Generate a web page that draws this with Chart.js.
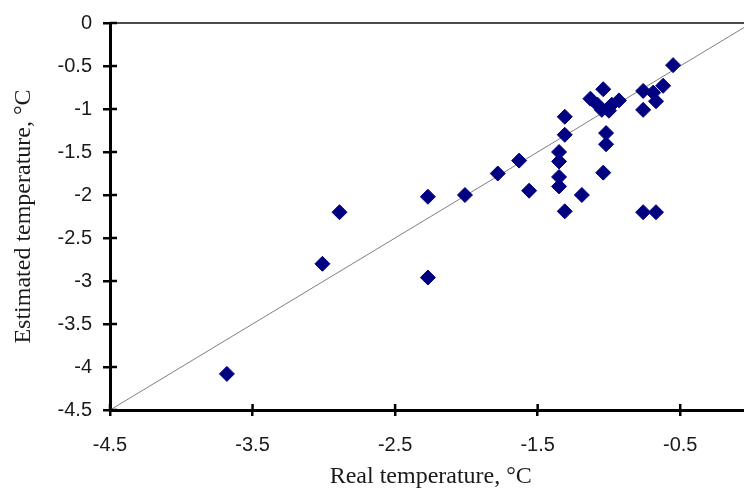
<!DOCTYPE html>
<html>
<head>
<meta charset="utf-8">
<script src="https://cdn.jsdelivr.net/npm/chart.js@4"></script>
<style>
  html, body { margin: 0; padding: 0; background: #fff; overflow: hidden; }
  #wrap { width: 744px; height: 491px; overflow: hidden; }
</style>
</head>
<body>
<div id="wrap"><canvas id="chart" width="760" height="491"></canvas></div>
<script>
// measured points: real vs estimated temperature
const realTemp = [-3.68, -3.01, -2.89, -2.27, -2.27, -2.01, -1.78, -1.63, -1.56,
                  -1.35, -1.35, -1.35, -1.35, -1.31, -1.31, -1.31, -1.19,
                  -1.13, -1.08, -1.05, -1.00, -1.04, -0.98, -0.93,
                  -1.02, -1.02, -1.04, -0.76, -0.76, -0.67, -0.69, -0.62, -0.55,
                  -0.76, -0.67];
const estTemp  = [-4.08, -2.80, -2.20, -2.96, -2.02, -2.00, -1.75, -1.60, -1.95,
                  -1.50, -1.61, -1.79, -1.90, -1.09, -1.30, -2.19, -2.00,
                  -0.88, -0.95, -1.01, -1.02, -0.77, -0.95, -0.90,
                  -1.28, -1.41, -1.74, -0.79, -1.01, -0.91, -0.81, -0.73, -0.49,
                  -2.20, -2.20];

// y = x reference line
const lineX = [-4.5, 0];
const lineY = [-4.5, 0];

const xTickValues = [-4.5, -3.5, -2.5, -1.5, -0.5];
const yTickValues = [0, -0.5, -1, -1.5, -2, -2.5, -3, -3.5, -4, -4.5];

const tickFont = { family: "'Liberation Sans', Arial, sans-serif", size: 20 };
const titleFont = { family: "'Liberation Serif', 'Times New Roman', serif", size: 24 };

// top frame line + inner halves of the tick marks
const frame = {
  id: 'frame',
  afterDraw(chart) {
    const ctx = chart.ctx, a = chart.chartArea;
    ctx.save();
    ctx.strokeStyle = '#4a4a4a';
    ctx.lineWidth = 2;
    ctx.beginPath();
    ctx.moveTo(a.left, a.top);
    ctx.lineTo(a.right + 10, a.top);
    ctx.stroke();
    ctx.strokeStyle = '#000';
    ctx.lineWidth = 2.5;
    ctx.beginPath();
    chart.scales.x.ticks.forEach(t => {
      const px = chart.scales.x.getPixelForValue(t.value);
      ctx.moveTo(px, a.bottom);
      ctx.lineTo(px, a.bottom - 6);
    });
    chart.scales.y.ticks.forEach(t => {
      const py = chart.scales.y.getPixelForValue(t.value);
      ctx.moveTo(a.left, py);
      ctx.lineTo(a.left + 7, py);
    });
    ctx.stroke();
    ctx.restore();
  }
};

new Chart(document.getElementById('chart'), {
  type: 'scatter',
  data: {
    datasets: [
      {
        label: 'Estimated',
        data: realTemp.map((x, i) => ({ x: x, y: estTemp[i] })),
        pointStyle: 'rectRot',
        pointRadius: 7.5,
        pointHoverRadius: 7.5,
        backgroundColor: '#000080',
        borderColor: '#000080',
        borderWidth: 1
      },
      {
        type: 'line',
        label: 'y = x',
        data: lineX.map((x, i) => ({ x: x, y: lineY[i] })),
        borderColor: '#808080',
        borderWidth: 1,
        pointRadius: 0,
        fill: false
      }
    ]
  },
  options: {
    responsive: false,
    animation: false,
    devicePixelRatio: 1,
    layout: { padding: { left: 9, right: 7, top: 21, bottom: 0 } },
    plugins: {
      legend: { display: false },
      tooltip: { enabled: false }
    },
    scales: {
      x: {
        type: 'linear',
        min: -4.5,
        max: 0,
        afterBuildTicks: s => { s.ticks = xTickValues.map(v => ({ value: v })); },
        afterFit: s => { s.height = 81; },
        border: { color: '#000', width: 3 },
        grid: { drawOnChartArea: false, color: '#000', lineWidth: 2.5, tickLength: 6 },
        ticks: { font: tickFont, color: '#1a1a1a', padding: 17, maxRotation: 0,
                 callback: v => String(v) },
        title: { display: true, text: 'Real temperature, °C', font: titleFont,
                 color: '#1a1a1a', padding: 0 }
      },
      y: {
        type: 'linear',
        min: -4.5,
        max: 0,
        afterBuildTicks: s => { s.ticks = yTickValues.map(v => ({ value: v })); },
        afterFit: s => { s.width = 101; },
        border: { color: '#000', width: 3 },
        grid: { drawOnChartArea: false, color: '#000', lineWidth: 2.5, tickLength: 7 },
        ticks: { font: tickFont, color: '#1a1a1a', padding: 11,
                 callback: v => String(v) },
        title: { display: true, text: 'Estimated temperature, °C', font: titleFont,
                 color: '#1a1a1a', padding: 0 }
      }
    }
  },
  plugins: [frame]
});
</script>
</body>
</html>
